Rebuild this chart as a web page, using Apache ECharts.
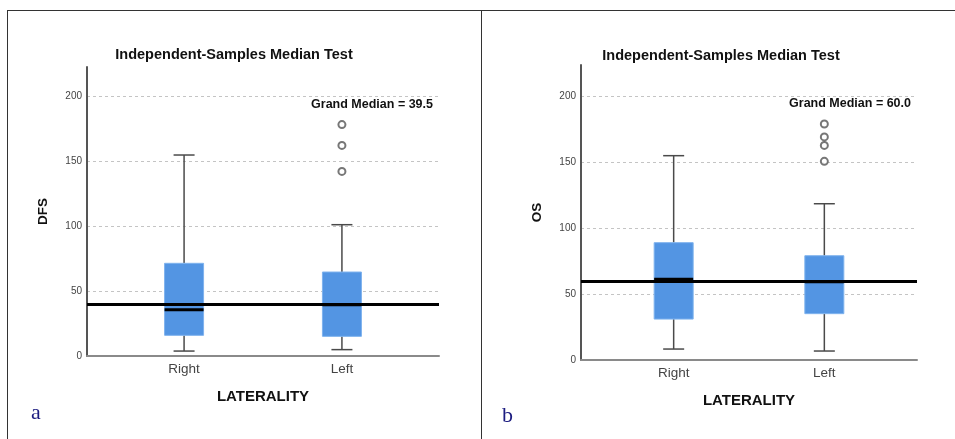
<!DOCTYPE html>
<html>
<head>
<meta charset="utf-8">
<script src="https://cdn.jsdelivr.net/npm/echarts@6/dist/echarts.min.js"></script>
<style>
html,body{margin:0;padding:0;background:#fff;}
#chart{width:955px;height:439px;}
</style>
</head>
<body>
<div id="chart"></div>
<script>
// ---- data ----
const categories = ['Right', 'Left'];
const yTicks = [0, 50, 100, 150, 200];
// [low whisker, Q1, median, Q3, high whisker]
const dfsRight = [3.8, 15.9, 35.6, 71.3, 154.6];
const dfsLeft = [4.9, 15.1, 39.5, 64.6, 101];
const dfsLeftOutliers = [178, 162, 142];
const dfsGrandMedian = 39.5;

const osRight = [8.3, 31, 61.1, 88.9, 154.8];
const osLeft = [6.8, 35.1, 59.3, 79, 118.4];
const osLeftOutliers = [178.8, 169, 162.6, 150.5];
const osGrandMedian = 60.0;

const titleText = 'Independent-Samples Median Test';
const xName = 'LATERALITY';
const yNames = ['DFS', 'OS'];

// ---- helpers ----
function boxData(right, left) {
  return [[1].concat(right), [2].concat(left)];
}
function renderBox(params, api) {
  const x = api.value(0);
  const pLow = api.coord([x, api.value(1)]);
  const pQ1 = api.coord([x, api.value(2)]);
  const pMed = api.coord([x, api.value(3)]);
  const pQ3 = api.coord([x, api.value(4)]);
  const pHigh = api.coord([x, api.value(5)]);
  const cx = pLow[0];
  const bw = 39, cw = 21;
  const wStyle = {stroke: '#4a4a4a', lineWidth: 1.5};
  return {
    type: 'group',
    children: [
      {type: 'line', shape: {x1: cx, y1: pHigh[1], x2: cx, y2: pQ3[1]}, style: wStyle},
      {type: 'line', shape: {x1: cx, y1: pQ1[1], x2: cx, y2: pLow[1]}, style: wStyle},
      {type: 'line', shape: {x1: cx - cw / 2, y1: pHigh[1], x2: cx + cw / 2, y2: pHigh[1]}, style: wStyle},
      {type: 'line', shape: {x1: cx - cw / 2, y1: pLow[1], x2: cx + cw / 2, y2: pLow[1]}, style: wStyle},
      {type: 'rect', shape: {x: cx - bw / 2, y: pQ3[1], width: bw, height: pQ1[1] - pQ3[1]},
        style: {fill: '#5395e3', stroke: '#7fb3ee', lineWidth: 1}},
      {type: 'line', shape: {x1: cx - bw / 2, y1: pMed[1], x2: cx + bw / 2, y2: pMed[1]},
        style: {stroke: '#000', lineWidth: 3}}
    ]
  };
}

const grids = [
  {left: 87, right: 516, top: 67, bottom: 83},
  {left: 581, right: 38, top: 65, bottom: 79}
];
const yMax = [222.3, 223.5];

function xAxisFor(i) {
  return {
    type: 'value', gridIndex: i, min: 0.385, max: 2.615,
    axisLine: {show: true, lineStyle: {color: '#8a8a8a', width: 2}},
    axisTick: {show: false, customValues: [1, 2]},
    splitLine: {show: false},
    axisLabel: {customValues: [1, 2], formatter: v => categories[Math.round(v) - 1],
      color: '#444', fontSize: 13.5, fontFamily: 'Liberation Sans', margin: 6},
    name: xName, nameLocation: 'middle', nameGap: 33,
    nameTextStyle: {fontWeight: 'bold', fontSize: 15, color: '#111', fontFamily: 'Liberation Sans'}
  };
}
function yAxisFor(i) {
  return {
    type: 'value', gridIndex: i, min: 0, max: yMax[i], interval: 50,
    axisLine: {show: true, lineStyle: {color: '#555', width: 2}},
    axisTick: {show: false, customValues: yTicks},
    axisLabel: {customValues: yTicks, color: '#444', fontSize: 10, fontFamily: 'Liberation Sans', margin: 5},
    splitLine: {show: true, lineStyle: {color: '#c4c4c4', type: [3, 3], width: 1}},
    name: yNames[i], nameLocation: 'middle', nameRotate: 90, nameGap: 37,
    nameTextStyle: {fontWeight: 'bold', fontSize: 13.5, color: '#111', fontFamily: 'Liberation Sans'}
  };
}

function panelSeries(i, right, left, outliers, grand) {
  return [
    {type: 'custom', xAxisIndex: i, yAxisIndex: i, data: boxData(right, left),
      encode: {x: 0, y: [1, 2, 3, 4, 5]}, renderItem: renderBox, z: 2, silent: true},
    {type: 'scatter', xAxisIndex: i, yAxisIndex: i, data: outliers.map(v => [2, v]),
      symbol: 'emptyCircle', symbolSize: 7, z: 3,
      itemStyle: {color: '#555', borderColor: '#555', borderWidth: 1.1},
      markLine: {silent: true, symbol: 'none', label: {show: false},
        lineStyle: {color: '#000', width: 3, type: 'solid'},
        data: [{yAxis: grand}], z: 5}}
  ];
}

const chart = echarts.init(document.getElementById('chart'), null, {renderer: 'canvas'});
chart.setOption({
  animation: false,
  grid: grids,
  xAxis: [xAxisFor(0), xAxisFor(1)],
  yAxis: [yAxisFor(0), yAxisFor(1)],
  series: panelSeries(0, dfsRight, dfsLeft, dfsLeftOutliers, dfsGrandMedian)
    .concat(panelSeries(1, osRight, osLeft, osLeftOutliers, osGrandMedian)),
  graphic: [
    {type: 'line', shape: {x1: 7, y1: 10.5, x2: 955, y2: 10.5}, style: {stroke: '#333', lineWidth: 1}},
    {type: 'line', shape: {x1: 7.5, y1: 10, x2: 7.5, y2: 439}, style: {stroke: '#333', lineWidth: 1}},
    {type: 'line', shape: {x1: 481.5, y1: 10, x2: 481.5, y2: 439}, style: {stroke: '#333', lineWidth: 1}},
    {type: 'text', x: 234, y: 55, style: {text: titleText, textAlign: 'center', textVerticalAlign: 'middle',
      font: 'bold 14.5px "Liberation Sans"', fill: '#111'}},
    {type: 'text', x: 721, y: 56, style: {text: titleText, textAlign: 'center', textVerticalAlign: 'middle',
      font: 'bold 14.5px "Liberation Sans"', fill: '#111'}},
    {type: 'text', x: 433, y: 105, style: {text: 'Grand Median = ' + dfsGrandMedian.toFixed(1), textAlign: 'right',
      textVerticalAlign: 'middle', font: 'bold 12.5px "Liberation Sans"', fill: '#111'}},
    {type: 'text', x: 911, y: 104, style: {text: 'Grand Median = ' + osGrandMedian.toFixed(1), textAlign: 'right',
      textVerticalAlign: 'middle', font: 'bold 12.5px "Liberation Sans"', fill: '#111'}},
    {type: 'text', x: 31, y: 413, style: {text: 'a', textAlign: 'left', textVerticalAlign: 'middle',
      font: '22px "Liberation Serif"', fill: '#1c1c80'}},
    {type: 'text', x: 502, y: 416, style: {text: 'b', textAlign: 'left', textVerticalAlign: 'middle',
      font: '22px "Liberation Serif"', fill: '#1c1c80'}}
  ]
});
</script>
</body>
</html>
